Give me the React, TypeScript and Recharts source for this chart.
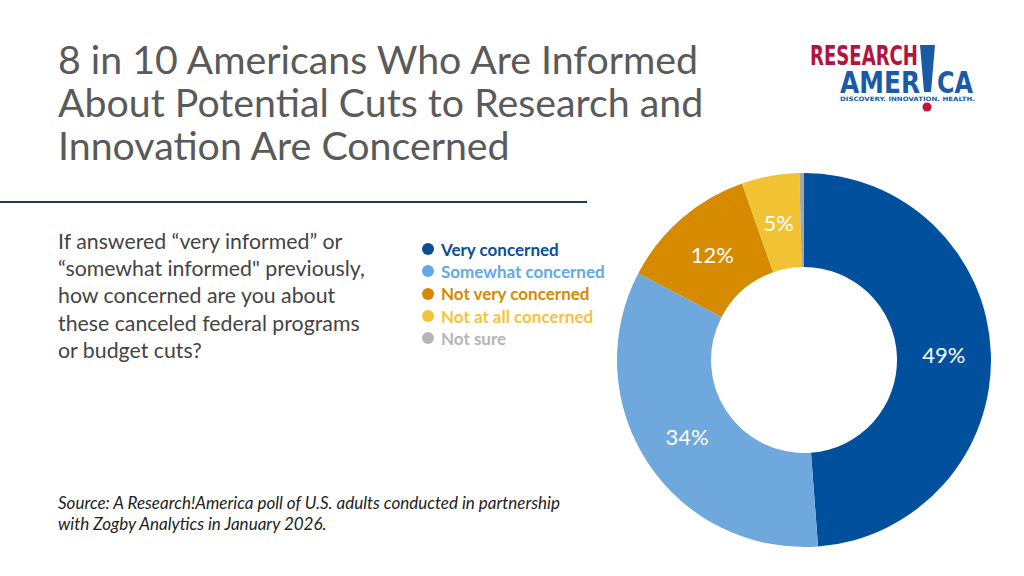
import React from 'react';
import { PieChart, Pie, Cell } from 'recharts';

const categories = ['Very concerned', 'Somewhat concerned', 'Not very concerned', 'Not at all concerned', 'Not sure'];
const shares = [49, 34, 12, 5, 0.4];
const labels = ['49%', '34%', '12%', '5%', ''];
const sliceColors = ['#00509d', '#6fa8dc', '#d68a00', '#f1c232', '#a6a6a6'];
const legendColors = ['#0a4f96', '#62a9e3', '#d48a00', '#f3c43a', '#b5b5b5'];

const titleLines = [
  '8 in 10 Americans Who Are Informed',
  'About Potential Cuts to Research and',
  'Innovation Are Concerned',
];
const questionLines = [
  'If answered \u201cvery informed\u201d or',
  '\u201csomewhat informed" previously,',
  'how concerned are you about',
  'these canceled federal programs',
  'or budget cuts?',
];
const sourceLines = [
  'Source: A Research!America poll of U.S. adults conducted in partnership',
  'with Zogby Analytics in January 2026.',
];

const data = categories.map((name, i) => ({ name, value: shares[i], label: labels[i] }));

const RAD = Math.PI / 180;
const FONT = 'Lato, "Open Sans", sans-serif';
const LOGO_FONT = '"Liberation Sans Narrow", "DejaVu Sans Condensed", sans-serif';

const renderLabel = (props: any) => {
  const { cx, cy, midAngle, innerRadius, outerRadius, index } = props;
  if (!labels[index]) return null;
  const r = (innerRadius + outerRadius) / 2;
  const x = cx + r * Math.cos(-midAngle * RAD);
  const y = cy + r * Math.sin(-midAngle * RAD);
  return (
    <text x={x} y={y} fill="#ffffff" fontSize={22} fontFamily={FONT} textAnchor="middle" dominantBaseline="central">
      {labels[index]}
    </text>
  );
};

// legend drawn beside the donut, same order as the slices
const ChartLegend = () => (
  <div style={{ position: 'absolute', left: 422, top: 238, fontFamily: FONT, fontWeight: 700, fontSize: 17 }}>
    {categories.map((name, i) => (
      <div key={name} style={{ display: 'flex', alignItems: 'center', height: 22.3 }}>
        <span
          style={{
            width: 12,
            height: 12,
            borderRadius: 6,
            background: legendColors[i],
            marginRight: 7,
            display: 'inline-block',
          }}
        />
        <span style={{ color: legendColors[i] }}>{name}</span>
      </div>
    ))}
  </div>
);

const Logo = () => (
  <svg width={180} height={90} style={{ position: 'absolute', left: 800, top: 36 }}>
    <text x={10} y={29} fill="#b5123f" fontFamily={LOGO_FONT} fontWeight={700} fontSize={26} textLength={108} lengthAdjust="spacingAndGlyphs">
      RESEARCH
    </text>
    <text x={40} y={57} fill="#1a5aa6" fontFamily={LOGO_FONT} fontWeight={700} fontSize={31} textLength={80} lengthAdjust="spacingAndGlyphs">
      AMER
    </text>
    <polygon points="120,9 135,9 131,56 124,56" fill="#1a5aa6" />
    <text x={137} y={57} fill="#1a5aa6" fontFamily={LOGO_FONT} fontWeight={700} fontSize={31} textLength={36} lengthAdjust="spacingAndGlyphs">
      CA
    </text>
    <text x={40} y={65} fill="#1a5aa6" fontFamily='"DejaVu Sans", sans-serif' fontWeight={700} fontSize={6} textLength={135} lengthAdjust="spacingAndGlyphs">
      DISCOVERY. INNOVATION. HEALTH.
    </text>
    <circle cx={127} cy={71} r={4.5} fill="#c0143c" />
  </svg>
);

export default function App() {
  return (
    <div style={{ position: 'absolute', left: 0, top: 0, width: 1024, height: 576, background: '#ffffff', overflow: 'hidden' }}>
      <div style={{ position: 'absolute', left: 58, top: 37, fontFamily: FONT, fontSize: 39.3, lineHeight: '43px', color: '#5a5a5a' }}>
        {titleLines.map((t, i) => (
          <div key={i}>{t}</div>
        ))}
      </div>
      <Logo />
      <div style={{ position: 'absolute', left: 0, top: 201, width: 587, height: 2, background: '#1f3a5f' }} />
      <div style={{ position: 'absolute', left: 58, top: 228, fontFamily: FONT, fontSize: 21.3, lineHeight: '27.2px', color: '#444444' }}>
        {questionLines.map((t, i) => (
          <div key={i}>{t}</div>
        ))}
      </div>
      <div style={{ position: 'absolute', left: 58, top: 492, fontFamily: FONT, fontStyle: 'italic', fontSize: 17, lineHeight: '21px', color: '#222222' }}>
        {sourceLines.map((t, i) => (
          <div key={i}>{t}</div>
        ))}
      </div>
      <ChartLegend />
      <div style={{ position: 'absolute', left: 0, top: 0 }}>
        <PieChart width={1024} height={576} margin={{ top: 0, right: 0, bottom: 0, left: 0 }}>
          <Pie
            data={data}
            dataKey="value"
            nameKey="name"
            cx={804}
            cy={360}
            innerRadius={93}
            outerRadius={187}
            startAngle={90}
            endAngle={-270}
            stroke="none"
            labelLine={false}
            label={renderLabel}
            isAnimationActive={false}
          >
            {data.map((d, i) => (
              <Cell key={d.name} fill={sliceColors[i]} />
            ))}
          </Pie>
        </PieChart>
      </div>
    </div>
  );
}
